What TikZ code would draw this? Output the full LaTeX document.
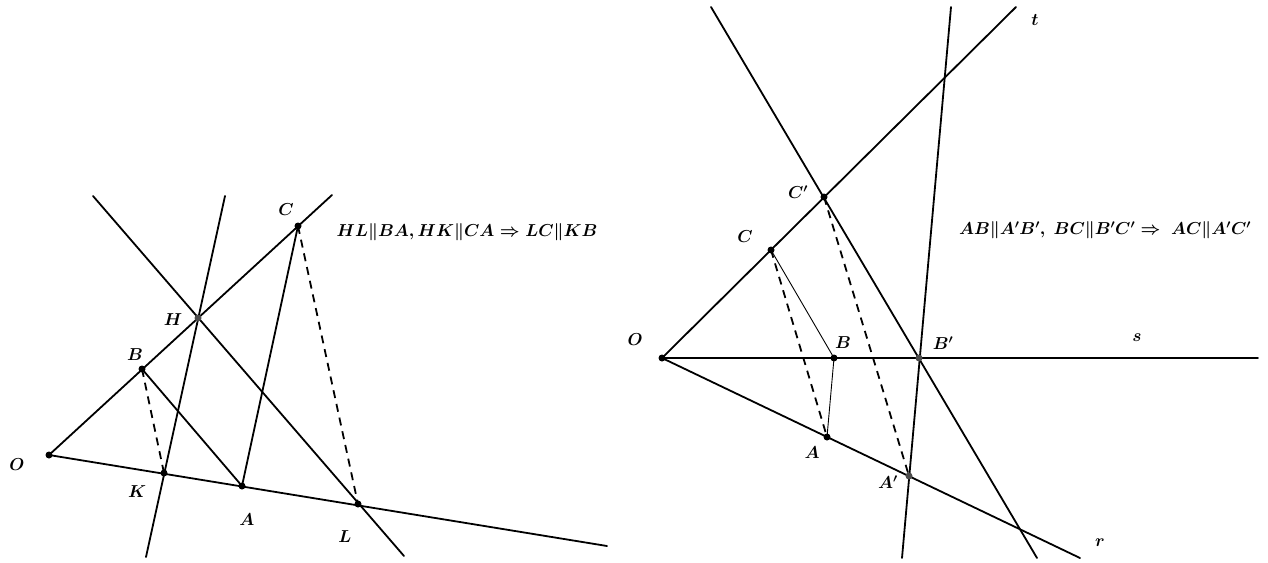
\documentclass[tikz,border=0pt]{standalone}
\usepackage{amsmath}
\tikzset{
  ln/.style={line width=1.8pt, line cap=round},
  thin ln/.style={line width=0.9pt},
  dsh/.style={line width=1.8pt, dash pattern=on 8pt off 6pt},
  pt/.style={circle, fill=black, inner sep=0pt, minimum size=7pt},
  gpt/.style={circle, fill=black!70, inner sep=0pt, minimum size=7pt},
  lbl/.style={font=\fontsize{17}{20}\selectfont\boldmath, inner sep=0pt},
  formula/.style={font=\fontsize{16.5}{20}\selectfont\boldmath, inner sep=0pt}
}
\begin{document}
\begin{tikzpicture}[x=1pt,y=-1pt]
\useasboundingbox (0,0) rectangle (1268,562);
% ---------- left figure ----------
\coordinate (O1) at (49,455);
\coordinate (K1) at (164,473);
\coordinate (A1) at (242,486);
\coordinate (L1) at (358,504);
\coordinate (B1) at (142,369);
\coordinate (H1) at (198,318);
\coordinate (C1) at (298,226);
\coordinate (rEnd1) at (607,546);
\coordinate (tEnd1) at (332,195);
\coordinate (hkTop) at (225,196);
\coordinate (hkBot) at (146,557);
\coordinate (hlTop) at (93,196);
\coordinate (hlBot) at (404,556);

\draw[ln] (O1) -- (rEnd1);
\draw[ln] (O1) -- (tEnd1);
\draw[ln] (hkTop) -- (hkBot);
\draw[ln] (hlTop) -- (hlBot);
\draw[ln] (B1) -- (A1);
\draw[ln] (A1) -- (C1);
\draw[dsh] (B1) -- (K1);
\draw[dsh] (C1) -- (L1);

\foreach \p in {O1,K1,A1,L1,B1,C1} \node[pt] at (\p) {};
\node[gpt] at (H1) {};

\node[lbl] (lO1) at (17,465) {$O$};
\node[lbl] (lK1) at (137,492) {$K$};
\node[lbl] (lA1) at (247,520) {$A$};
\node[lbl] (lL1) at (345,537) {$L$};
\node[lbl] (lB1) at (135,355) {$B$};
\node[lbl] (lH1) at (173,320) {$H$};
\node[lbl] (lC1) at (286,210) {$C$};
\node[formula] (f1) at (467,232) {$HL\|BA, HK\|CA \Rightarrow LC\|KB$};

% ---------- right figure ----------
\coordinate (O2) at (662,358);
\coordinate (B2) at (834,358);
\coordinate (Bp) at (919,358);
\coordinate (A2) at (827,437);
\coordinate (Ap) at (909,476);
\coordinate (C2) at (771,250);
\coordinate (Cp) at (824,197);
\coordinate (sEnd) at (1258,358);
\coordinate (rEnd2) at (1080,558);
\coordinate (tEnd2) at (1016,7);
\coordinate (cbTop) at (711,7);
\coordinate (cbBot) at (1037,558);
\coordinate (abTop) at (951,7);
\coordinate (abBot) at (902,558);

\draw[ln] (O2) -- (sEnd);
\draw[ln] (O2) -- (rEnd2);
\draw[ln] (O2) -- (tEnd2);
\draw[ln] (cbTop) -- (cbBot);
\draw[ln] (abTop) -- (abBot);
\draw[thin ln] (C2) -- (B2) -- (A2);
\draw[dsh] (C2) -- (A2);
\draw[dsh] (Cp) -- (Ap);

\foreach \p in {O2,B2,A2,C2,Cp} \node[pt] at (\p) {};
\node[gpt] at (Bp) {};
\node[gpt] at (Ap) {};

\node[lbl] (lO2) at (635,340) {$O$};
\node[lbl] (lB2) at (843,343) {$B$};
\node[lbl] (lBp) at (943,343) {$B'$};
\node[lbl] (lA2) at (812,453) {$A$};
\node[lbl] (lAp) at (888,482) {$A'$};
\node[lbl] (lC2) at (745,237) {$C$};
\node[lbl] (lCp) at (798,192) {$C'$};
\node[lbl] (lt) at (1035,20) {$t$};
\node[lbl] (ls) at (1137,338) {$s$};
\node[lbl] (lr) at (1100,543) {$r$};
\node[formula] (f2) at (1105,230) {$AB\|A'B',\ BC\|B'C' \Rightarrow\ AC\|A'C'$};
\end{tikzpicture}
\end{document}
